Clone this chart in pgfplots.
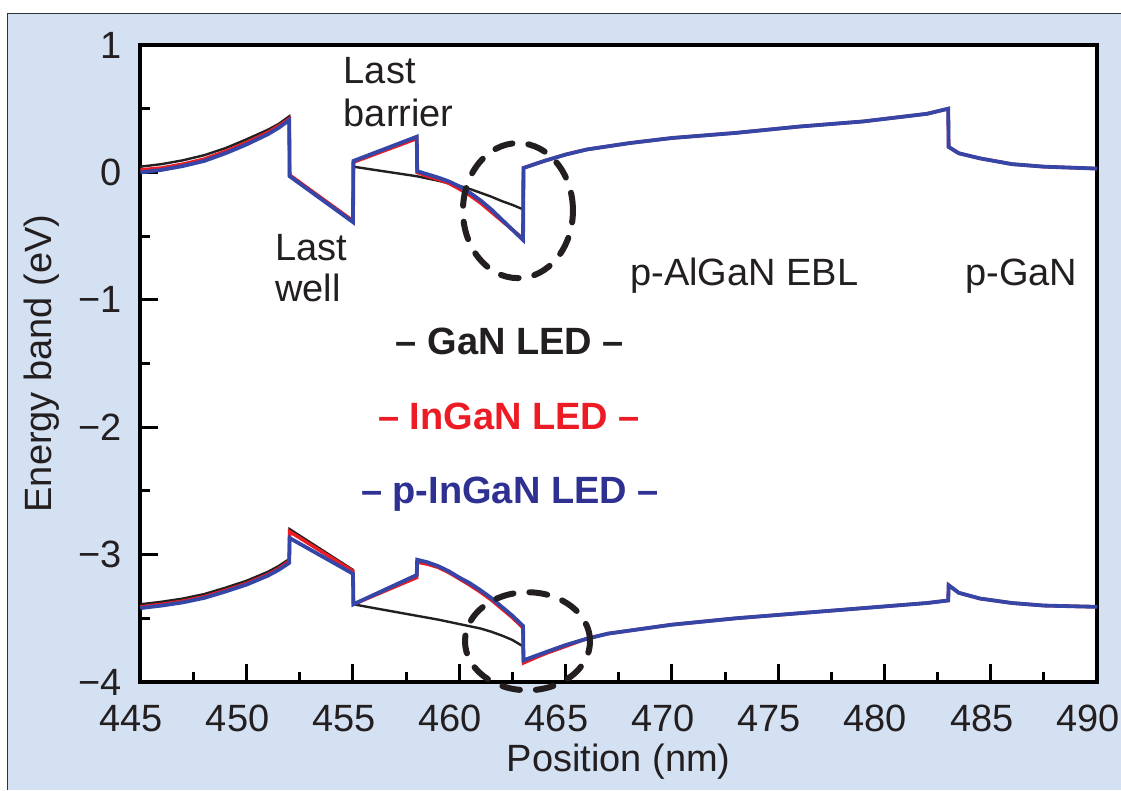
\documentclass[border=0pt]{standalone}
\usepackage{fontspec}
\setmainfont{Liberation Sans}
\usepackage{pgfplots}
\pgfplotsset{compat=1.18}
\definecolor{panel}{HTML}{D4E1F2}
\definecolor{cblack}{HTML}{231F20}
\definecolor{cred}{HTML}{ED1C24}
\definecolor{cblue}{HTML}{3546A6}
\definecolor{tblue}{HTML}{2E3192}
\newcommand{\ff}{\fontsize{19bp}{22bp}\selectfont}
\begin{document}
\begin{tikzpicture}[x=1bp,y=1bp]
\path[use as bounding box] (0,0) rectangle (560.5,395);
\fill[panel] (3.5,0) rectangle (560.5,388.5);
\draw[line width=0.6bp, black!80] (3.8,0) -- (3.8,388.2) -- (560.5,388.2);
\begin{axis}[
  at={(70.2bp,54bp)}, anchor=south west, scale only axis,
  width=478.3bp, height=318.5bp,
  xmin=445, xmax=490, ymin=-4, ymax=1,
  axis background/.style={fill=white},
  axis line style={line width=2bp, black},
  tick style={line width=1.5bp, black},
  major tick length=9bp, minor tick length=5bp,
  tick align=inside, tick pos=left,
  xtick={445,450,...,490}, minor xtick={447.5,452.5,...,487.5},
  ytick={-4,...,1}, minor ytick={-3.5,-2.5,...,0.5},
  xticklabels={445,450,455,460,465,470,475,480,485,490},
  yticklabels={−4,−3,−2,−1,0,1},
  ticklabel style={font=\ff, text=cblack, inner sep=0pt},
  xticklabel style={xshift=-4.5bp, yshift=-11.5bp},
  yticklabel style={xshift=-9.3bp},
  xlabel={Position (nm)}, ylabel={Energy band (eV)},
  label style={font=\ff, text=cblack},
  xlabel style={at={(axis description cs:0.5,-0.141)}, anchor=base},
  ylabel style={at={(axis description cs:-0.0927,0.5)}, anchor=base},
  clip=false,
]
% ---------- conduction band ----------
\addplot[cblack, line width=1.2bp] coordinates {
(445,0.045)(446,0.065)(447,0.095)(448,0.135)(449,0.19)(450,0.26)(451,0.335)(451.5,0.38)(452,0.44)(452.02,-0.02)(455,-0.38)(455.02,0.045)(456,0.02)(457,-0.005)(458,-0.03)(459,-0.065)(460,-0.105)(460.5,-0.13)(461,-0.16)(461.5,-0.19)(462,-0.225)(462.5,-0.255)(463,-0.29)(463.02,0.035)(464,0.09)(465,0.14)(466,0.18)(468,0.23)(470,0.27)(473,0.31)(476,0.36)(479,0.40)(482,0.46)(483,0.50)(483.02,0.20)(483.5,0.15)(484.5,0.11)(486,0.065)(487.5,0.045)(490,0.03)};
\addplot[cred, line width=1.7bp] coordinates {
(445,0.02)(446,0.035)(447,0.065)(448,0.105)(449,0.165)(450,0.235)(451,0.315)(451.5,0.365)(452,0.42)(452.02,-0.02)(455,-0.38)(455.02,0.08)(458,0.265)(458.02,0.00)(458.5,-0.03)(459,-0.055)(459.5,-0.085)(460,-0.13)(460.5,-0.18)(461,-0.24)(461.5,-0.31)(462,-0.38)(462.5,-0.45)(463,-0.52)(463.02,0.035)(464,0.09)(465,0.14)(466,0.18)(468,0.23)(470,0.27)(473,0.31)(476,0.36)(479,0.40)(482,0.46)(483,0.50)(483.02,0.20)(483.5,0.15)(484.5,0.11)(486,0.065)(487.5,0.045)(490,0.03)};
\addplot[cblue, line width=1.9bp] coordinates {
(445,0.00)(446,0.02)(447,0.05)(448,0.09)(449,0.15)(450,0.22)(451,0.30)(451.5,0.35)(452,0.41)(452.02,-0.03)(455,-0.39)(455.02,0.09)(458,0.28)(458.02,0.01)(458.5,-0.015)(459,-0.04)(459.5,-0.07)(460,-0.11)(460.5,-0.16)(461,-0.22)(461.5,-0.29)(462,-0.37)(462.5,-0.45)(463,-0.53)(463.02,0.035)(464,0.09)(465,0.14)(466,0.18)(468,0.23)(470,0.27)(473,0.31)(476,0.36)(479,0.40)(482,0.46)(483,0.50)(483.02,0.20)(483.5,0.15)(484.5,0.11)(486,0.065)(487.5,0.045)(490,0.03)};
% ---------- valence band ----------
\addplot[cblack, line width=1.2bp] coordinates {
(445,-3.39)(446,-3.37)(447,-3.345)(448,-3.31)(449,-3.26)(450,-3.205)(451,-3.135)(451.5,-3.09)(452,-3.035)(452.02,-2.80)(455,-3.12)(455.02,-3.39)(456,-3.42)(457,-3.45)(458,-3.48)(459,-3.51)(460,-3.545)(461,-3.58)(461.5,-3.605)(462,-3.635)(462.5,-3.67)(463,-3.72)(463.02,-3.83)(464,-3.77)(465,-3.71)(466,-3.66)(467,-3.62)(470,-3.55)(473,-3.50)(476,-3.46)(479,-3.42)(482,-3.38)(483,-3.36)(483.02,-3.24)(483.5,-3.30)(484.5,-3.345)(486,-3.38)(487.5,-3.40)(490,-3.41)};
\addplot[cred, line width=1.7bp] coordinates {
(445,-3.41)(446,-3.39)(447,-3.365)(448,-3.33)(449,-3.28)(450,-3.225)(451,-3.155)(451.5,-3.11)(452,-3.05)(452.02,-2.82)(455,-3.13)(455.02,-3.39)(458,-3.18)(458.02,-3.06)(458.5,-3.075)(459,-3.10)(459.5,-3.14)(460,-3.19)(460.5,-3.24)(461,-3.295)(461.5,-3.355)(462,-3.425)(462.5,-3.495)(463,-3.575)(463.02,-3.85)(464,-3.78)(465,-3.72)(466,-3.66)(467,-3.62)(470,-3.55)(473,-3.50)(476,-3.46)(479,-3.42)(482,-3.38)(483,-3.36)(483.02,-3.24)(483.5,-3.30)(484.5,-3.345)(486,-3.38)(487.5,-3.40)(490,-3.41)};
\addplot[cblue, line width=1.9bp] coordinates {
(445,-3.42)(446,-3.40)(447,-3.375)(448,-3.34)(449,-3.29)(450,-3.235)(451,-3.165)(451.5,-3.12)(452,-3.065)(452.02,-2.87)(455,-3.15)(455.02,-3.39)(458,-3.16)(458.02,-3.04)(458.5,-3.06)(459,-3.09)(459.5,-3.13)(460,-3.18)(460.5,-3.225)(461,-3.28)(461.5,-3.34)(462,-3.41)(462.5,-3.48)(463,-3.56)(463.02,-3.83)(464,-3.77)(465,-3.71)(466,-3.66)(467,-3.62)(470,-3.55)(473,-3.50)(476,-3.46)(479,-3.42)(482,-3.38)(483,-3.36)(483.02,-3.24)(483.5,-3.30)(484.5,-3.345)(486,-3.38)(487.5,-3.40)(490,-3.41)};
% ---------- dashed circles ----------
\draw[cblack, line width=3bp, dash pattern=on 9bp off 8bp, line cap=round] (axis cs:462.76,-0.30) ellipse [x radius=27.5bp, y radius=33.75bp];
\draw[cblack, line width=3bp, dash pattern=on 9bp off 8bp, line cap=round] (axis cs:463.21,-3.68) ellipse [x radius=31.25bp, y radius=24.5bp];
% ---------- annotations ----------
\begin{scope}[every node/.style={inner sep=0pt, font=\ff, text=cblack}]
\node[anchor=base west] at (axis cs:454.55,0.70) {Last};
\node[anchor=base west] at (axis cs:454.55,0.36) {barrier};
\node[anchor=base west] at (axis cs:451.33,-0.69) {Last};
\node[anchor=base west] at (axis cs:451.33,-1.015) {well};
\node[anchor=base west] at (axis cs:468.03,-0.89) {p-AlGaN EBL};
\node[anchor=base west] at (axis cs:483.79,-0.89) {p-GaN};
\node[anchor=base, font=\bfseries\ff, text=cblack] at (axis cs:462.38,-1.43) {– GaN LED –};
\node[anchor=base, font=\bfseries\ff, text=cred] at (axis cs:462.34,-2.02) {– InGaN LED –};
\node[anchor=base, font=\bfseries\ff, text=tblue] at (axis cs:462.38,-2.60) {– p-InGaN LED –};
\end{scope}
\end{axis}
\end{tikzpicture}
\end{document}
